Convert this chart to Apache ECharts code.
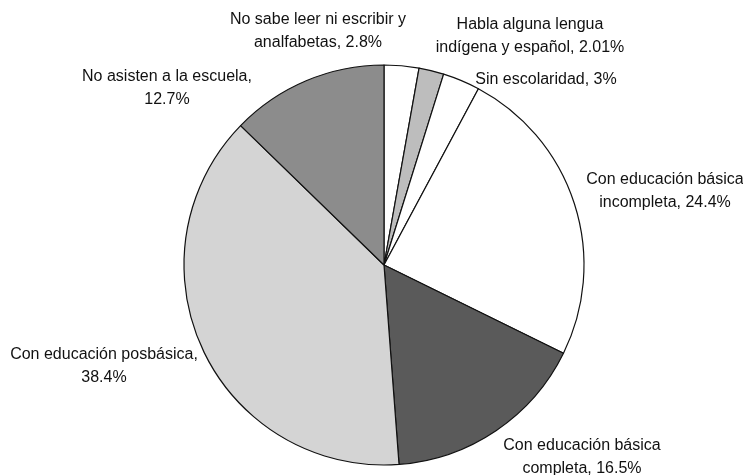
<!DOCTYPE html>
<html>
<head>
<meta charset="utf-8">
<script src="https://cdn.jsdelivr.net/npm/echarts@6/dist/echarts.min.js"></script>
<style>
  html, body { margin: 0; padding: 0; background: #fff; }
  #chart { width: 743px; height: 475px; }
</style>
</head>
<body>
<div id="chart"></div>
<script>
// Data
const categories = [
  'No sabe leer ni escribir y\nanalfabetas',
  'Habla alguna lengua\nindígena y español',
  'Sin escolaridad',
  'Con educación básica\nincompleta',
  'Con educación básica\ncompleta',
  'Con educación posbásica',
  'No asisten a la escuela'
];
const valueLabels = ['2.8%', '2.01%', '3%', '24.4%', '16.5%', '38.4%', '12.7%'];
const values = [2.8, 2.01, 3, 24.4, 16.5, 38.4, 12.7];

// Styles / layout (not data)
const sliceColors = ['#ffffff', '#bdbdbd', '#ffffff', '#ffffff', '#5a5a5a', '#d4d4d4', '#8c8c8c'];
const labelCenters = [[318, 31], [530, 36], [546, 80], [665, 191], [582, 457], [104, 366], [167, 88]];

const chart = echarts.init(document.getElementById('chart'), null, { renderer: 'canvas' });

const seriesData = categories.map((c, i) => ({
  name: c,
  value: values[i],
  itemStyle: { color: sliceColors[i] }
}));

chart.setOption({
  backgroundColor: '#ffffff',
  animation: false,
  series: [{
    type: 'pie',
    center: [384, 265],
    radius: [0, 200],
    startAngle: 90,
    clockwise: true,
    data: seriesData,
    itemStyle: { borderColor: '#111', borderWidth: 1.2 },
    emphasis: { disabled: true },
    label: {
      show: true,
      position: 'outside',
      alignTo: 'none',
      overflow: 'none',
      color: '#111',
      fontFamily: 'Liberation Sans, Arial, sans-serif',
      fontSize: 16,
      lineHeight: 23,
      align: 'center',
      formatter: function (p) {
        const name = categories[p.dataIndex];
        const v = valueLabels[p.dataIndex];
        if (name.indexOf('\n') >= 0) return name + ', ' + v;
        if (p.dataIndex === 2) return name + ', ' + v;
        return name + ',\n' + v;
      }
    },
    labelLine: { show: false },
    labelLayout: function (params) {
      const c = labelCenters[params.dataIndex];
      return { x: c[0], y: c[1], align: 'center', verticalAlign: 'middle' };
    }
  }]
});
</script>
</body>
</html>
